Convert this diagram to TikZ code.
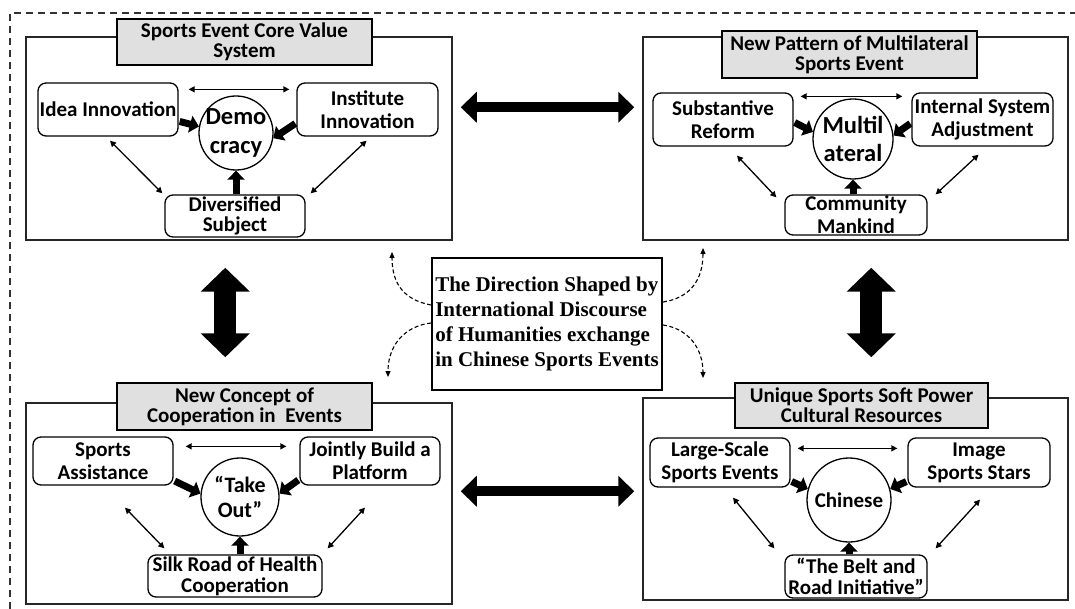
\documentclass[tikz,border=0pt]{standalone}
\usepackage{fontspec}
\newfontfamily\carl{Carlito}
\newfontfamily\libser{Liberation Serif}
\usetikzlibrary{arrows.meta,calc}
\begin{document}
\begin{tikzpicture}[x=1pt,y=-1pt,
  panelbox/.style={draw=black!85,line width=1.5pt,inner sep=0pt},
  titlebox/.style={draw=black,line width=2pt,fill=black!12,align=center,inner sep=0pt,font=\carl\bfseries\fontsize{21pt}{20pt}\selectfont},
  rbox/.style={draw=black,line width=1.3pt,rounded corners=8pt,align=center,inner sep=0pt,font=\carl\bfseries\fontsize{21pt}{23pt}\selectfont},
  cnode/.style={circle,draw=black,line width=1.3pt,inner sep=-4pt,align=center},
  thinarr/.style={line width=1.3pt,{Triangle[length=6pt,width=6pt]}-{Triangle[length=6pt,width=6pt]}},
  blkarr/.style={line width=7pt,-{Triangle[length=9pt,width=17pt]}},
  bigh/.style={line width=10pt,{Triangle[length=16pt,width=30pt]}-{Triangle[length=16pt,width=30pt]}},
  bigv/.style={line width=22pt,{Triangle[length=24pt,width=48pt]}-{Triangle[length=24pt,width=48pt]}},
  dasharr/.style={line width=1.1pt,dash pattern=on 4pt off 2.5pt,-{Triangle[length=6pt,width=5pt]}},
  framestyle/.style={line width=1.5pt,draw=black!80,dash pattern=on 7pt off 5pt}
]
\useasboundingbox (0,0) rectangle (1075,609);

% outer dashed frame
\coordinate (fa) at (10,609);
\coordinate (fb) at (10,13);
\coordinate (fc) at (1075,13);
\draw[framestyle] (fa) -- (fb) -- (fc);

% ---------------- top left
\node[panelbox,minimum width=426pt,minimum height=203pt] (tl) at (239,138.5) {};
\node[titlebox,minimum width=255pt,minimum height=46pt] (tlt) at (244.5,42) {Sports Event Core Value\\System};
\node[rbox,minimum width=140pt,minimum height=53pt] (idea) at (108,109.5) {Idea Innovation};
\node[rbox,minimum width=141pt,minimum height=53pt] (inst) at (367.5,109.5) {Institute\\Innovation};
\node[cnode,minimum size=74pt,font=\carl\bfseries\fontsize{24.5pt}{29pt}\selectfont] (demo) at (236,133) {Demo\\cracy};
\node[rbox,minimum width=140pt,minimum height=42pt,font=\carl\bfseries\fontsize{21pt}{20pt}\selectfont] (div) at (235,216) {Diversified\\Subject};

\draw[thinarr] ($(idea.north east)+(10,7)$) -- ($(inst.north west)+(-7,7)$);
\draw[thinarr] ($(idea.south)+(2,4)$) -- ($(div.north west)+(-2,-1)$);
\draw[thinarr] ($(inst.south)+(-1,4)$) -- ($(div.north east)+(5,-1)$);
\draw[blkarr] ($(idea.east)+(1,12)$) -- (demo.170);
\draw[blkarr] ($(inst.west)+(-1,14)$) -- (demo.-8);
\draw[blkarr] (demo.south |- div.north) -- (demo.south);

% ---------------- top right
\node[panelbox,minimum width=425pt,minimum height=203pt] (tr) at (855.5,138.5) {};
\node[titlebox,minimum width=255pt,minimum height=47pt] (trt) at (849.5,55) {New Pattern of Multilateral\\Sports Event};
\node[rbox,minimum width=140pt,minimum height=53pt] (sub) at (723,119.5) {Substantive\\Reform};
\node[rbox,minimum width=141pt,minimum height=53pt] (isa) at (982.5,119.5) {Internal System\\Adjustment};
\node[cnode,minimum size=80pt,font=\carl\bfseries\fontsize{24.5pt}{28pt}\selectfont] (multi) at (853,139) {Multil\\ateral};
\node[rbox,minimum width=142pt,minimum height=40pt] (com) at (856,215) {Community\\Mankind};

\draw[thinarr] ($(sub.north east)+(7,4)$) -- ($(isa.north west)+(-9,4)$);
\draw[thinarr] ($(sub.south)+(14,9)$) -- ($(com.north west)+(-8,3)$);
\draw[thinarr] ($(isa.south)+(-4,8)$) -- ($(com.north east)+(8,0)$);
\draw[blkarr] ($(sub.east)+(1,3)$) -- (multi.170);
\draw[blkarr] ($(isa.west)+(-1,4)$) -- (multi.5);
\draw[blkarr] (multi.south |- com.north) -- (multi.south);

% ---------------- bottom left
\node[panelbox,minimum width=426pt,minimum height=201pt] (bl) at (239,503.5) {};
\node[titlebox,minimum width=255pt,minimum height=47pt] (blt) at (244.5,406.5) {New Concept of\\Cooperation in\ \ Events};
\node[rbox,minimum width=140pt,minimum height=48pt] (sa) at (103,461) {Sports\\Assistance};
\node[rbox,minimum width=140pt,minimum height=48pt] (jbp) at (370,461) {Jointly Build a\\Platform};
\node[cnode,minimum size=78pt,font=\carl\bfseries\fontsize{22pt}{25pt}\selectfont] (take) at (240,497) {“Take\\Out”};
\node[rbox,minimum width=174pt,minimum height=42pt,font=\carl\bfseries\fontsize{21pt}{21pt}\selectfont] (silk) at (235,576) {Silk Road of Health\\Cooperation};

\draw[thinarr] ($(sa.north east)+(12,10)$) -- ($(jbp.north west)+(-13,10)$);
\draw[thinarr] ($(sa.south)+(22,22)$) -- ($(silk.north west)+(17,-6)$);
\draw[thinarr] ($(jbp.south)+(-5,22)$) -- ($(silk.north east)+(5,-6)$);
\draw[blkarr] ($(sa.east)+(1,20)$) -- (take.175);
\draw[blkarr] ($(jbp.west)+(-1,19)$) -- (take.5);
\draw[blkarr] (take.south |- silk.north) -- (take.south);

% ---------------- bottom right
\node[panelbox,minimum width=425pt,minimum height=202pt] (br) at (855.5,499) {};
\node[titlebox,minimum width=253pt,minimum height=45pt] (brt) at (861.5,405.5) {Unique Sports Soft Power\\Cultural Resources};
\node[rbox,minimum width=140pt,minimum height=49pt] (lss) at (720,462.5) {Large-Scale\\Sports Events};
\node[rbox,minimum width=142pt,minimum height=49pt] (iss) at (979,462.5) {Image\\Sports Stars};
\node[cnode,minimum size=84pt,font=\carl\bfseries\fontsize{21pt}{25pt}\selectfont] (chin) at (849,500) {Chinese};
\node[rbox,minimum width=142pt,minimum height=43pt,font=\carl\bfseries\fontsize{21pt}{21pt}\selectfont] (belt) at (856,576.5) {“The Belt and\\Road Initiative”};

\draw[thinarr] ($(lss.north east)+(7,11)$) -- ($(iss.north west)+(-10,11)$);
\draw[thinarr] ($(lss.south)+(13,10)$) -- ($(belt.north west)+(-10,-6)$);
\draw[thinarr] ($(iss.south)+(1,12)$) -- ($(belt.north east)+(8,-6)$);
\draw[blkarr] ($(lss.east)+(1,19)$) -- (chin.165);
\draw[blkarr] ($(iss.west)+(-1,19)$) -- (chin.15);
\draw[blkarr] (chin.south |- belt.north) -- (chin.south);

% ---------------- big arrows between panels
\draw[bigh] ($(tl.north east)+(8,71)$) -- ($(tr.north west)+(-8,71)$);
\coordinate (h2) at ($(bl.north east)+(8,89)$);
\draw[bigh] (h2) -- ($(h2 -| br.west)+(-8,0)$);
\draw[bigv] ($(tl.south west)+(200,27)$) -- ($(bl.north west)+(200,-45)$);
\draw[bigv] ($(tr.south west)+(229,27)$) -- ($(br.north west)+(229,-40)$);

% ---------------- centre
\node[draw=black,line width=2pt,minimum width=230pt,minimum height=132pt,inner sep=0pt,align=left,font=\libser\bfseries\fontsize{21pt}{25pt}\selectfont] (ctr) at (547,324) {The Direction Shaped by\\International Discourse\\of Humanities exchange\\in Chinese Sports Events};

\coordinate (d1) at (392,252);
\coordinate (d2) at (388,377);
\coordinate (d3) at (703,248);
\coordinate (d4) at (703,378);
\draw[dasharr] ($(ctr.west)+(0,-19)$) .. controls (405,300) and (392,285) .. (d1);
\draw[dasharr] ($(ctr.west)+(0,-1)$) .. controls (405,326) and (388,345) .. (d2);
\draw[dasharr] ($(ctr.east)+(0,-22)$) .. controls (690,298) and (703,280) .. (d3);
\draw[dasharr] ($(ctr.east)+(0,1)$) .. controls (690,329) and (703,350) .. (d4);
\end{tikzpicture}
\end{document}
